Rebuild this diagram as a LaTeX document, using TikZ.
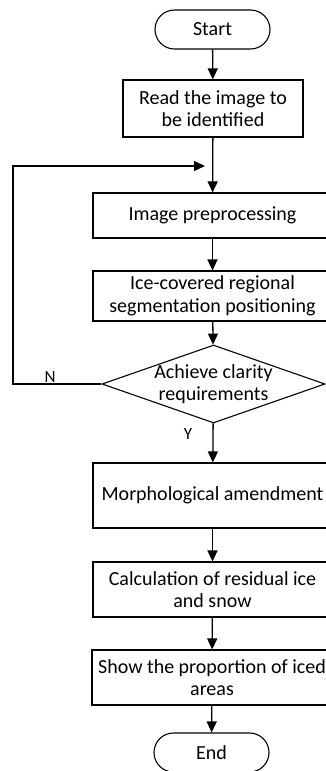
\documentclass[tikz,border=0pt]{standalone}
\usepackage{fontspec}
\setmainfont{Carlito}
\usetikzlibrary{shapes.misc,shapes.geometric,arrows.meta}
\begin{document}
\begin{tikzpicture}[x=1pt,y=-1pt,
  every node/.style={font=\fontsize{20}{22.5}\selectfont, align=center, inner sep=0pt},
  box/.style={draw, line width=1.1pt, minimum height=#1},
  term/.style={draw, rounded rectangle, line width=1.1pt, minimum width=115pt, minimum height=39pt},
  dec/.style={draw, diamond, aspect=2.85, line width=1.1pt, minimum width=223pt, minimum height=78pt},
  flow/.style={line width=1.3pt, -{Triangle[length=11pt,width=10pt]}},
  lbl/.style={font=\fontsize{17}{20}\selectfont}]
\useasboundingbox (0,0) rectangle (326,771);
\clip (0,0) rectangle (326,771);
\node[term] (start) at (212.5,29.5) {Start};
\node[box=57pt, minimum width=180pt] (read) at (213,108.5) {Read the image to\\be identified};
\node[box=45pt, minimum width=239pt] (prep) at (212.5,215.5) {Image preprocessing};
\node[box=50pt, minimum width=239pt] (ice) at (212.5,296) {Ice-covered regional\\segmentation positioning};
\node[dec] (cl) at (213.5,384) {};
\node at (213.5,384) {Achieve clarity\\requirements};
\node[box=65pt, minimum width=239pt] (morph) at (212.5,495.5) {Morphological amendment};
\node[box=55pt, minimum width=239pt] (calc) at (212.5,589.5) {Calculation of residual ice\\and snow};
\node[box=55pt, minimum width=240pt] (show) at (212,677.5) {Show the proportion of iced\\areas};
\node[term] (end) at (211.5,752.5) {End};
\coordinate (join) at (213,166);
\coordinate (lb) at (13,384);
\coordinate (lt) at (13,166);
\draw[flow] (start) -- (read);
\draw[flow] (read) -- (prep);
\draw[flow] (prep) -- (ice);
\draw[flow] (ice) -- (cl);
\draw[flow] (cl) -- (morph);
\draw[flow] (morph) -- (calc);
\draw[flow] (calc) -- (show);
\draw[flow] (show) -- (end);
\draw[flow] (cl.west) -- (lb) -- (lt) -- ([xshift=-8pt]join);
\node[lbl] (n) at (50,377) {N};
\node[lbl] (y) at (188,434) {Y};
\end{tikzpicture}
\end{document}
